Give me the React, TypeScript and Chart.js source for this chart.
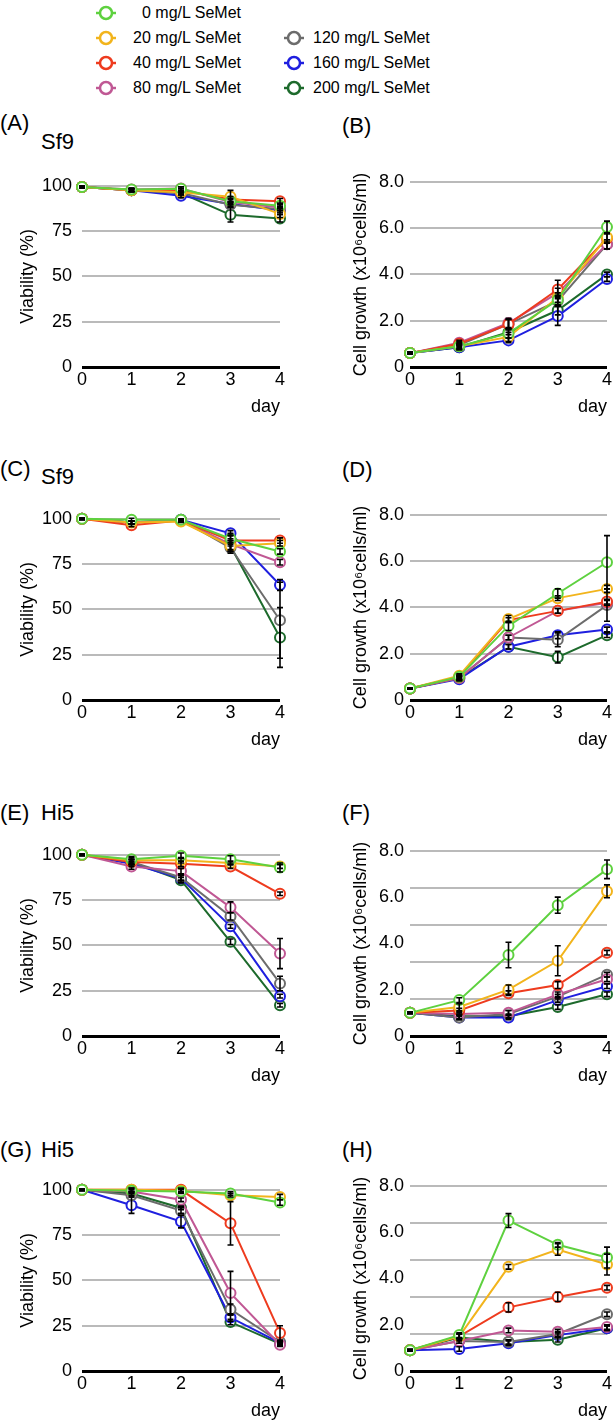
import React, { useEffect, useRef } from "react";
import { Chart, registerables } from "chart.js";

Chart.register(...registerables);

const FONT = "'Liberation Sans', Arial, Helvetica, sans-serif";

// ---------- data ----------
const days = ["0", "1", "2", "3", "4"];
const seriesLabels = [
  "0 mg/L SeMet",
  "20 mg/L SeMet",
  "40 mg/L SeMet",
  "80 mg/L SeMet",
  "120 mg/L SeMet",
  "160 mg/L SeMet",
  "200 mg/L SeMet",
];
const seriesColors = ["#5ed13f", "#f2b41c", "#ee3b1e", "#c05894", "#6c6c6c", "#1f1fdf", "#1d6a2c"];

const viabilityTicks = [0, 25, 50, 75, 100];
const growthTicks = [0, 2, 4, 6, 8];
const growthGridOffset = [1.6, 3.2, 4.8, 6.4, 8];

// (A) Sf9 viability
const panelA = [
  [99.3, 98, 98.4, 91.5, 89],
  [99.3, 97.5, 96.5, 94, 84.5],
  [99.3, 97.5, 97.5, 92.5, 91.5],
  [99.3, 98, 98.5, 91, 88],
  [99.3, 97.5, 96, 89.5, 87],
  [99.3, 97.5, 94.5, 90, 86.5],
  [99.3, 97.5, 96, 84, 82],
];
const panelAErr = [
  [0.5, 0.8, 1, 1.5, 1.5],
  [0.5, 0.8, 1, 3.5, 2],
  [0.5, 0.8, 1, 1.5, 1.5],
  [0.5, 0.8, 1, 1.5, 1.5],
  [0.5, 0.8, 1, 1.5, 1.5],
  [0.5, 0.8, 1, 1.5, 1.5],
  [0.5, 0.8, 1, 4, 2],
];
// (B) Sf9 growth
const panelB = [
  [0.6, 0.9, 1.45, 2.9, 6.05],
  [0.6, 0.9, 1.3, 3.0, 5.6],
  [0.6, 1.0, 1.85, 3.35, 5.55],
  [0.6, 1.05, 1.9, 3.2, 5.3],
  [0.6, 0.95, 1.85, 2.85, 5.3],
  [0.6, 0.85, 1.15, 2.2, 3.8],
  [0.6, 0.85, 1.5, 2.45, 4.0],
];
const panelBErr = [
  [0.03, 0.1, 0.2, 0.2, 0.25],
  [0.03, 0.1, 0.2, 0.2, 0.2],
  [0.03, 0.1, 0.2, 0.4, 0.2],
  [0.03, 0.1, 0.2, 0.2, 0.2],
  [0.03, 0.1, 0.2, 0.2, 0.2],
  [0.03, 0.1, 0.1, 0.4, 0.1],
  [0.03, 0.1, 0.1, 0.2, 0.1],
];
// (C) Sf9 viability
const panelC = [
  [100, 99.5, 99.5, 89, 82],
  [100, 98, 98.5, 85, 86.5],
  [100, 96.5, 99, 88, 88],
  [100, 98, 99, 86, 76],
  [100, 98, 99.5, 84, 44],
  [100, 98, 99.5, 92, 63.5],
  [100, 98, 99, 85, 34.5],
];
const panelCErr = [
  [0.3, 0.8, 0.5, 3, 1.5],
  [0.3, 0.8, 0.5, 3, 1.5],
  [0.3, 0.8, 0.5, 3, 1.5],
  [0.3, 0.8, 0.5, 3, 1.5],
  [0.3, 0.8, 0.5, 3, 21],
  [0.3, 0.8, 0.5, 1.5, 3],
  [0.3, 0.8, 0.5, 3, 16.5],
];
// (D) Sf9 growth
const panelD = [
  [0.5, 1.0, 3.2, 4.6, 5.95],
  [0.5, 1.05, 3.5, 4.4, 4.8],
  [0.5, 1.0, 3.45, 3.85, 4.25],
  [0.5, 0.95, 2.7, 3.85, 4.2],
  [0.5, 0.95, 2.7, 2.6, 4.1],
  [0.5, 0.9, 2.3, 2.8, 3.05],
  [0.5, 0.95, 2.3, 1.85, 2.8],
];
const panelDErr = [
  [0.03, 0.08, 0.2, 0.2, 1.15],
  [0.03, 0.08, 0.15, 0.1, 0.15],
  [0.03, 0.08, 0.1, 0.1, 0.1],
  [0.03, 0.08, 0.1, 0.1, 0.1],
  [0.03, 0.08, 0.1, 0.3, 0.7],
  [0.03, 0.08, 0.1, 0.15, 0.1],
  [0.03, 0.08, 0.1, 0.25, 0.1],
];
// (E) Hi5 viability
const panelE = [
  [100, 97.5, 99.5, 97.5, 93],
  [100, 97, 97, 95.5, 93.5],
  [100, 96, 95, 93.5, 78.5],
  [100, 93.5, 91, 71, 45.5],
  [100, 96, 87.5, 66, 29],
  [100, 95, 87, 60.5, 22],
  [100, 96, 86, 52, 17],
];
const panelEErr = [
  [0.3, 1.5, 1.5, 2, 2.5],
  [0.3, 1.5, 1.5, 1, 1],
  [0.3, 1.5, 1.5, 1, 1],
  [0.3, 1.5, 1.5, 3, 8.3],
  [0.3, 1.5, 1.5, 2, 4],
  [0.3, 1.5, 1.5, 1, 1],
  [0.3, 1.5, 1.5, 1.5, 1],
];
// (F) Hi5 growth
const panelF = [
  [1.0, 1.55, 3.5, 5.65, 7.2],
  [1.0, 1.25, 2.0, 3.25, 6.25],
  [1.0, 1.1, 1.85, 2.2, 3.6],
  [1.0, 0.95, 1.0, 1.8, 2.45],
  [1.0, 0.8, 0.95, 1.7, 2.65],
  [1.0, 0.8, 0.8, 1.55, 2.15],
  [1.0, 0.85, 0.85, 1.25, 1.8],
];
const panelFErr = [
  [0.03, 0.1, 0.55, 0.35, 0.4],
  [0.03, 0.15, 0.2, 0.65, 0.28],
  [0.03, 0.1, 0.1, 0.15, 0.1],
  [0.03, 0.1, 0.1, 0.1, 0.1],
  [0.03, 0.1, 0.15, 0.1, 0.1],
  [0.03, 0.1, 0.1, 0.1, 0.1],
  [0.03, 0.1, 0.1, 0.1, 0.1],
];
// (G) Hi5 viability
const panelG = [
  [100, 99.5, 99, 98, 93],
  [100, 100, 99.5, 97, 96],
  [100, 100, 100, 81.5, 21],
  [100, 99, 94.5, 43, 14.5],
  [100, 97, 88.5, 34, 16],
  [100, 91.5, 82.5, 29.5, 15.5],
  [100, 98, 90, 27, 15],
];
const panelGErr = [
  [0.3, 1, 1, 1, 1.5],
  [0.3, 1, 1, 1, 1.5],
  [0.3, 1, 1, 12, 4],
  [0.3, 1, 1, 12, 1],
  [0.3, 1, 1.5, 3, 1],
  [0.3, 4.5, 3.5, 2, 1],
  [0.3, 1, 1, 1.5, 1],
];
// (H) Hi5 growth
const panelH = [
  [0.9, 1.55, 6.5, 5.45, 4.9],
  [0.9, 1.5, 4.5, 5.25, 4.6],
  [0.9, 1.5, 2.75, 3.2, 3.6],
  [0.9, 1.3, 1.75, 1.7, 1.9],
  [0.9, 1.3, 1.25, 1.6, 2.45],
  [0.9, 0.95, 1.2, 1.55, 1.85],
  [0.9, 1.45, 1.25, 1.35, 1.85],
];
const panelHErr = [
  [0.03, 0.1, 0.3, 0.1, 0.45],
  [0.03, 0.1, 0.1, 0.25, 0.45],
  [0.03, 0.1, 0.2, 0.2, 0.1],
  [0.03, 0.1, 0.1, 0.1, 0.1],
  [0.03, 0.1, 0.1, 0.1, 0.1],
  [0.03, 0.1, 0.1, 0.1, 0.1],
  [0.03, 0.15, 0.1, 0.1, 0.1],
];

// ---------- chart ----------
type Kind = "via" | "growth";

function makeErrorPlugin(errs: number[][]) {
  return {
    id: "errorBars",
    afterDatasetsDraw(chart: any) {
      const ctx = chart.ctx;
      const ys = chart.scales.y;
      ctx.save();
      ctx.strokeStyle = "#000";
      ctx.lineWidth = 1.6;
      chart.data.datasets.forEach((ds: any, i: number) => {
        const meta = chart.getDatasetMeta(i);
        meta.data.forEach((pt: any, j: number) => {
          const v = ds.data[j];
          const e = errs[i] && errs[i][j];
          if (!e) return;
          const x = pt.x;
          const y1 = ys.getPixelForValue(v + e);
          const y2 = ys.getPixelForValue(v - e);
          ctx.beginPath();
          ctx.moveTo(x, y1);
          ctx.lineTo(x, y2);
          ctx.moveTo(x - 3, y1);
          ctx.lineTo(x + 3, y1);
          ctx.moveTo(x - 3, y2);
          ctx.lineTo(x + 3, y2);
          ctx.stroke();
        });
      });
      ctx.restore();
    },
  };
}

const PLOT_H = 187;
const PAD_TOP = 15;
const X_AXIS_H = 55;

function Panel(props: {
  left: boolean;
  plotTop: number;
  kind: Kind;
  offsetGrid?: boolean;
  values: number[][];
  errors: number[][];
}) {
  const ref = useRef<HTMLCanvasElement | null>(null);
  const { left, plotTop, kind, offsetGrid, values, errors } = props;
  const canvasLeft = left ? 0 : 307;
  const canvasW = left ? 300 : 307;
  const canvasH = PAD_TOP + PLOT_H + X_AXIS_H;

  useEffect(() => {
    if (!ref.current) return;
    const isVia = kind === "via";
    const labelTicks = isVia ? viabilityTicks : growthTicks;
    const gridTicks = isVia ? viabilityTicks : offsetGrid ? [0, ...growthGridOffset] : growthTicks;
    const allTicks = Array.from(new Set([...labelTicks, ...gridTicks])).sort((a, b) => a - b);
    const padLeft = left ? 13 : 39;
    const yWidth = left ? 69 : 64;
    const chart = new Chart(ref.current, {
      type: "line",
      data: {
        labels: days,
        datasets: values.map((vals, i) => ({
          label: seriesLabels[i],
          data: vals,
          borderColor: seriesColors[i],
          backgroundColor: seriesColors[i],
          borderWidth: 2,
          pointRadius: 5,
          pointBorderWidth: 2,
          pointBackgroundColor: "#ffffff",
          pointBorderColor: seriesColors[i],
          tension: 0,
          clip: false as any,
        })),
      },
      options: {
        animation: false,
        responsive: false,
        events: [],
        layout: { padding: { top: PAD_TOP, left: padLeft, right: left ? 20 : 7, bottom: 0 } },
        plugins: { legend: { display: false }, tooltip: { enabled: false }, title: { display: false } },
        scales: {
          x: {
            type: "category",
            offset: false,
            grid: { display: false, drawTicks: false },
            border: { display: false },
            ticks: { color: "#000", font: { size: 18, family: FONT }, padding: 2, autoSkip: false, maxRotation: 0 },
            title: {
              display: true,
              text: "day",
              align: "end",
              color: "#000",
              font: { size: 18, family: FONT },
              padding: { top: 0, bottom: 4 },
            },
            afterFit: (s: any) => {
              s.height = X_AXIS_H;
            },
          },
          y: {
            type: "linear",
            min: isVia ? 0 : 0,
            max: isVia ? 100 : 8,
            afterBuildTicks: (axis: any) => {
              axis.ticks = allTicks.map((v) => ({ value: v }));
            },
            grid: {
              drawTicks: false,
              color: (c: any) => {
                const v = c.tick ? c.tick.value : null;
                if (v === 0) return "#000000";
                if (gridTicks.indexOf(v) >= 0) return "#bababa";
                return "rgba(0,0,0,0)";
              },
              lineWidth: (c: any) => (c.tick && c.tick.value === 0 ? 3 : 2),
            },
            border: { display: false },
            ticks: {
              color: "#000",
              autoSkip: false,
              padding: left ? 10 : 6,
              font: { size: 18, family: FONT },
              callback: (v: any) => {
                if (labelTicks.indexOf(v) < 0) return "";
                if (isVia) return String(v);
                return v === 0 ? "0" : Number(v).toFixed(1);
              },
            },
            title: {
              display: true,
              text: isVia ? "Viability (%)" : "Cell growth (x10\u2076cells/ml)",
              color: "#000",
              font: { size: 18, family: FONT },
              padding: { top: 4, bottom: 4 },
            },
            afterFit: (s: any) => {
              s.width = yWidth;
            },
          },
        },
      },
      plugins: [makeErrorPlugin(errors)],
    } as any);
    return () => chart.destroy();
  }, []);

  return (
    <canvas
      ref={ref}
      width={canvasW}
      height={canvasH}
      style={{ position: "absolute", left: canvasLeft, top: plotTop - PAD_TOP, width: canvasW, height: canvasH }}
    />
  );
}

function LegendMarker({ color }: { color: string }) {
  return (
    <svg width={24} height={16} style={{ display: "block" }}>
      <line x1={2} y1={8} x2={22} y2={8} stroke={color} strokeWidth={2.5} />
      <circle cx={12} cy={8} r={6} fill="#fff" stroke={color} strokeWidth={2.5} />
    </svg>
  );
}

function LegendItem({ idx, x, y, rightAlignText }: { idx: number; x: number; y: number; rightAlignText?: number }) {
  return (
    <>
      <div style={{ position: "absolute", left: x - 12, top: y - 8 }}>
        <LegendMarker color={seriesColors[idx]} />
      </div>
      {rightAlignText !== undefined ? (
        <div
          style={{
            position: "absolute",
            left: rightAlignText - 150,
            width: 150,
            textAlign: "right",
            top: y - 10,
            fontSize: 16,
            lineHeight: "20px",
            fontFamily: FONT,
            whiteSpace: "nowrap",
          }}
        >
          {seriesLabels[idx]}
        </div>
      ) : (
        <div
          style={{
            position: "absolute",
            left: x + 19,
            top: y - 10,
            fontSize: 16,
            lineHeight: "20px",
            fontFamily: FONT,
            whiteSpace: "nowrap",
          }}
        >
          {seriesLabels[idx]}
        </div>
      )}
    </>
  );
}

function Label({ x, y, text }: { x: number; y: number; text: string }) {
  return (
    <div
      style={{
        position: "absolute",
        left: x,
        top: y - 13,
        fontSize: 22,
        lineHeight: "26px",
        fontFamily: FONT,
        whiteSpace: "nowrap",
        color: "#000",
      }}
    >
      {text}
    </div>
  );
}

const rowTops = [180, 513, 849, 1184];

export default function App() {
  return (
    <div
      style={{
        position: "absolute",
        left: 0,
        top: 0,
        width: 614,
        height: 1424,
        background: "#fff",
        overflow: "hidden",
        fontFamily: FONT,
      }}
    >
      <LegendItem idx={0} x={106} y={13} rightAlignText={241} />
      <LegendItem idx={1} x={106} y={38} rightAlignText={241} />
      <LegendItem idx={2} x={106} y={63} rightAlignText={241} />
      <LegendItem idx={3} x={106} y={88} rightAlignText={241} />
      <LegendItem idx={4} x={294} y={38} />
      <LegendItem idx={5} x={294} y={63} />
      <LegendItem idx={6} x={294} y={88} />

      <Label x={0} y={123} text="(A)" />
      <Label x={41} y={142} text="Sf9" />
      <Label x={342} y={126} text="(B)" />
      <Label x={0} y={469} text="(C)" />
      <Label x={41} y={477} text="Sf9" />
      <Label x={342} y={470} text="(D)" />
      <Label x={0} y={813} text="(E)" />
      <Label x={41} y={813} text="Hi5" />
      <Label x={342} y={813} text="(F)" />
      <Label x={0} y={1150} text="(G)" />
      <Label x={41} y={1150} text="Hi5" />
      <Label x={342} y={1150} text="(H)" />

      <Panel left plotTop={rowTops[0]} kind="via" values={panelA} errors={panelAErr} />
      <Panel left={false} plotTop={rowTops[0]} kind="growth" values={panelB} errors={panelBErr} />
      <Panel left plotTop={rowTops[1]} kind="via" values={panelC} errors={panelCErr} />
      <Panel left={false} plotTop={rowTops[1]} kind="growth" values={panelD} errors={panelDErr} />
      <Panel left plotTop={rowTops[2]} kind="via" values={panelE} errors={panelEErr} />
      <Panel left={false} plotTop={rowTops[2]} kind="growth" offsetGrid values={panelF} errors={panelFErr} />
      <Panel left plotTop={rowTops[3]} kind="via" values={panelG} errors={panelGErr} />
      <Panel left={false} plotTop={rowTops[3]} kind="growth" offsetGrid values={panelH} errors={panelHErr} />
    </div>
  );
}
